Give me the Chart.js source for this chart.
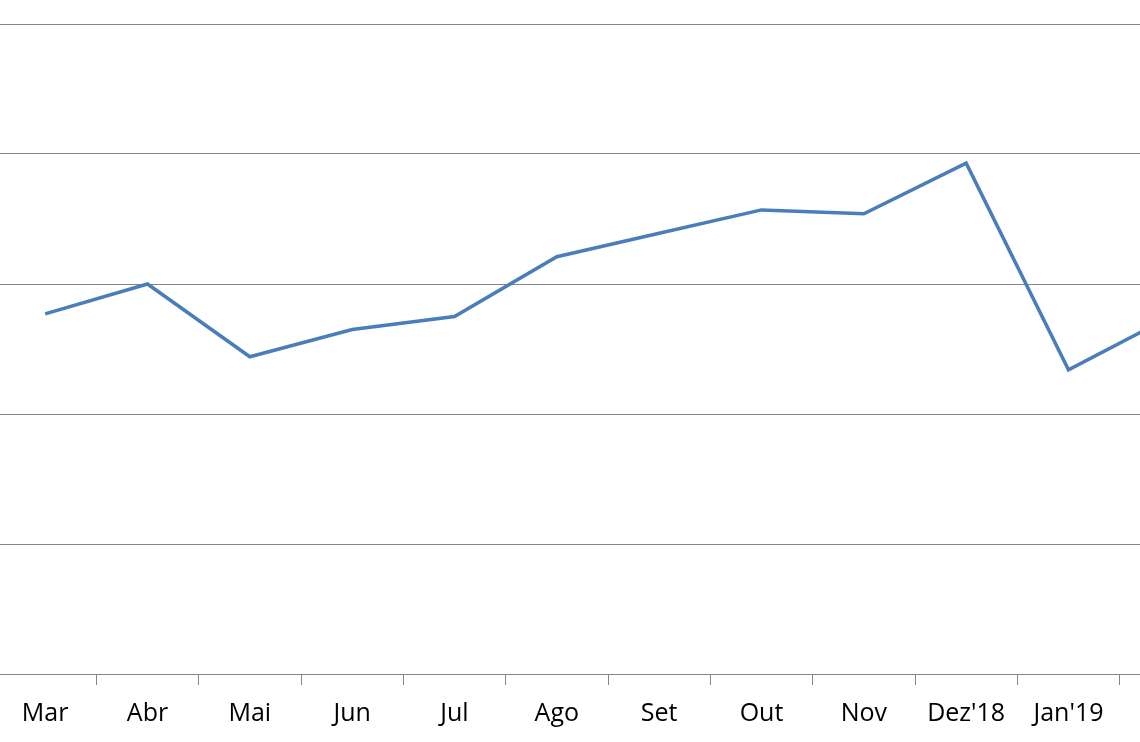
<!DOCTYPE html>
<html>
<head>
<meta charset="utf-8">
<script src="https://cdn.jsdelivr.net/npm/chart.js@4/dist/chart.umd.min.js"></script>
<style>
  html, body { margin: 0; padding: 0; width: 1140px; height: 742px; overflow: hidden; background: #fff; }
  #wrap { position: absolute; left: -6px; top: 0; width: 1228px; height: 742px; }
</style>
</head>
<body>
<div id="wrap"><canvas id="c" width="1228" height="742" style="width:1228px;height:742px"></canvas></div>
<script>
const categories = ["Mar", "Abr", "Mai", "Jun", "Jul", "Ago", "Set", "Out", "Nov", "Dez'18", "Jan'19", "Fev"];
const values = [27.7, 30.0, 24.4, 26.5, 27.5, 32.1, 33.9, 35.7, 35.4, 39.3, 23.4, 27.5];
const yMin = 0, yMax = 50, yStep = 10;

new Chart(document.getElementById('c'), {
  type: 'line',
  data: {
    labels: categories,
    datasets: [{
      data: values,
      borderColor: '#4a7ebb',
      borderWidth: 3.5,
      pointRadius: 0,
      tension: 0,
      fill: false
    }]
  },
  options: {
    responsive: false,
    animation: false,
    devicePixelRatio: 1,
    layout: { padding: { left: 0, right: 0, top: 24, bottom: 0 } },
    plugins: { legend: { display: false }, tooltip: { enabled: false } },
    scales: {
      x: {
        offset: true,
        grid: { offset: true, drawOnChartArea: false, drawTicks: true, tickLength: 11, color: '#868686', lineWidth: 1 },
        border: { display: true, color: '#868686', width: 1 },
        ticks: { color: '#000', font: { family: 'Open Sans', size: 25 }, padding: 14, maxRotation: 0, autoSkip: false },
        afterFit: s => { s.height = 68; }
      },
      y: {
        min: yMin, max: yMax,
        ticks: { display: false, stepSize: yStep },
        grid: { color: '#868686', lineWidth: 1, drawTicks: false },
        border: { display: false },
        afterFit: s => { s.width = 0; }
      }
    }
  }
});
</script>
</body>
</html>
